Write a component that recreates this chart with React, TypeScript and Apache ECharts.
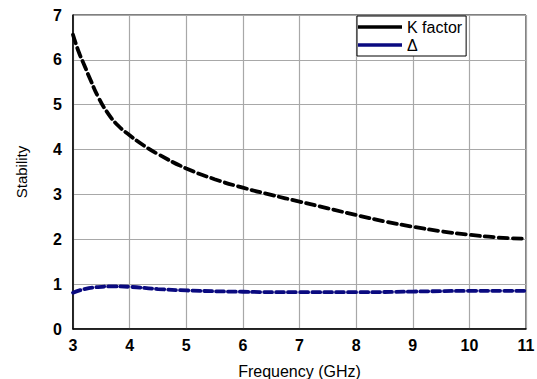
import React, { useEffect, useRef } from "react";
import * as echarts from "echarts";

const kFreq = [3, 3.1, 3.2, 3.3, 3.45, 3.6, 3.8, 4, 4.25, 4.5, 5, 5.5, 6, 6.5, 7, 7.5, 8, 8.5, 9, 9.5, 10, 10.5, 11];
const kValues = [6.56, 6.18, 5.88, 5.58, 5.16, 4.84, 4.53, 4.32, 4.09, 3.9, 3.58, 3.34, 3.15, 2.99, 2.84, 2.69, 2.54, 2.4, 2.28, 2.18, 2.1, 2.04, 2.01];
const deltaFreq = [3, 3.2, 3.4, 3.7, 4, 4.5, 5, 6, 7, 8, 9, 10, 11];
const deltaValues = [0.81, 0.89, 0.93, 0.95, 0.94, 0.89, 0.86, 0.83, 0.82, 0.82, 0.835, 0.85, 0.85];
const seriesNames = ["K factor", "\u0394"];
const xTitle = "Frequency (GHz)";
const yTitle = "Stability";

export default function App() {
  const ref = useRef<HTMLDivElement>(null);
  useEffect(() => {
    document.body.style.margin = "0";
    const chart = echarts.init(ref.current!, null, { renderer: "svg" });
    const font = "Arial";
    chart.setOption({
      animation: false,
      backgroundColor: "#fff",
      grid: {
        left: 73,
        right: 11,
        top: 15,
        bottom: 50,
        outerBoundsMode: "none",
        containLabel: false,
        show: true,
        borderColor: "#000",
        borderWidth: 1,
      },
      legend: {
        orient: "vertical",
        left: 357,
        top: 16,
        padding: [3, 4, 3, 1],
        itemGap: 2,
        itemWidth: 44,
        itemHeight: 3.5,
        icon: "rect",
        borderColor: "#000",
        borderWidth: 1,
        backgroundColor: "#fff",
        textStyle: { fontFamily: font, fontSize: 16, color: "#000", lineHeight: 16 },
        data: seriesNames,
      },
      xAxis: {
        type: "value",
        min: 3,
        max: 11,
        interval: 1,
        name: xTitle,
        nameLocation: "middle",
        nameGap: 34,
        nameTextStyle: { fontFamily: font, fontSize: 16, color: "#000" },
        axisLine: { lineStyle: { color: "#000", width: 1.5 } },
        axisTick: { show: false },
        axisLabel: { fontFamily: font, fontSize: 16, fontWeight: 700, color: "#000", margin: 8 },
        splitLine: { lineStyle: { color: "#a8a8a8", width: 1.2 } },
      },
      yAxis: {
        type: "value",
        min: 0,
        max: 7,
        interval: 1,
        name: yTitle,
        nameLocation: "middle",
        nameGap: 44,
        nameTextStyle: { fontFamily: font, fontSize: 15, color: "#000" },
        axisLine: { show: true, lineStyle: { color: "#000", width: 1.5 } },
        axisTick: { show: false },
        axisLabel: { fontFamily: font, fontSize: 16, fontWeight: 700, color: "#000", margin: 11 },
        splitLine: { lineStyle: { color: "#a8a8a8", width: 1.2 } },
      },
      series: [
        {
          name: seriesNames[0],
          type: "line",
          smooth: true,
          symbol: "none",
          color: "#000",
          lineStyle: { color: "#000", width: 3.8, type: [9, 5], cap: "round" },
          data: kFreq.map((f, i) => [f, kValues[i]]),
        },
        {
          name: seriesNames[1],
          type: "line",
          smooth: true,
          symbol: "none",
          color: "#0a0a80",
          lineStyle: { color: "#0a0a80", width: 3.8, type: [8, 4], cap: "round" },
          data: deltaFreq.map((f, i) => [f, deltaValues[i]]),
        },
      ],
    });
    return () => chart.dispose();
  }, []);
  return <div ref={ref} style={{ width: 537, height: 379 }} />;
}
